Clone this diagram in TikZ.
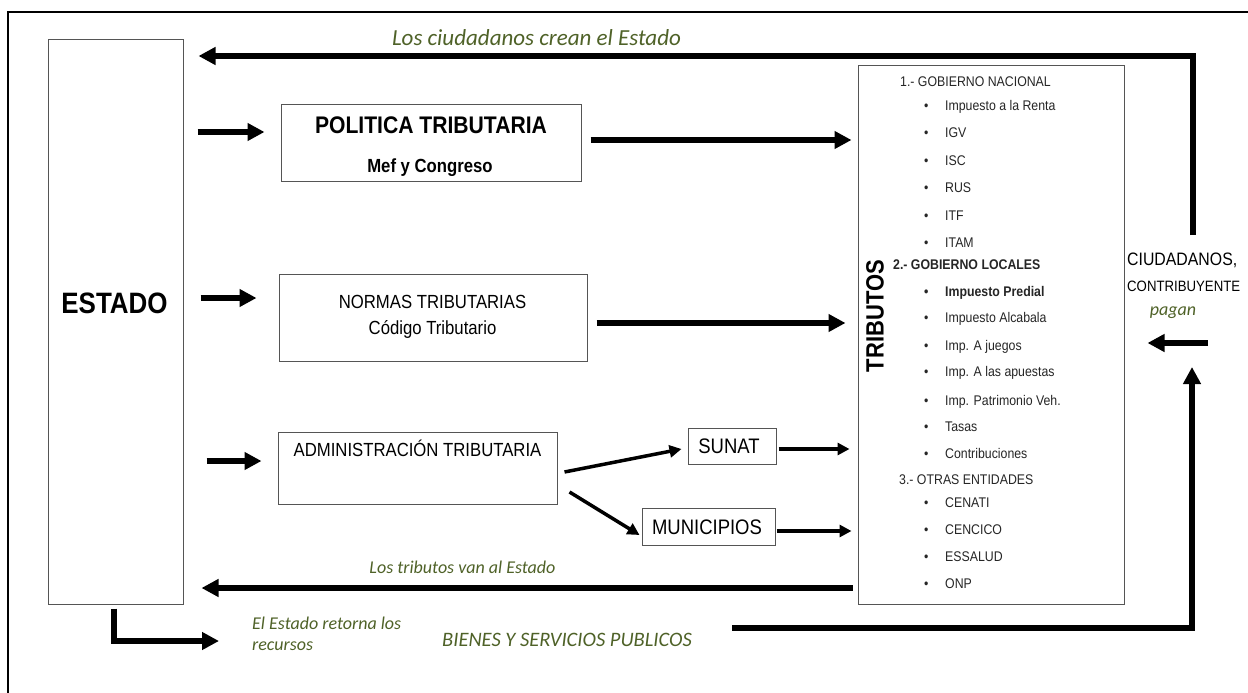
\documentclass[tikz,border=0pt]{standalone}
\usepackage{fontspec}
\setmainfont{Liberation Sans}
\newfontfamily\ar{Liberation Sans}[FakeStretch=0.88]
\newfontfamily\cb{Carlito}
\usetikzlibrary{arrows.meta,calc}
\definecolor{txtgreen}{RGB}{79,98,40}
\definecolor{boxgray}{RGB}{85,85,85}
\tikzset{
  box/.style={draw=boxgray, line width=1pt, inner sep=0pt, fill=white},
  btxt/.style={anchor=base, inner sep=0pt, font=\ar\fontsize{19}{22}\selectfont},
  gtxt/.style={inner sep=0pt, text=txtgreen},
  item/.style={anchor=base west, inner sep=0pt, text=black!85, font=\ar\fontsize{14}{16}\selectfont},
  bigarrow/.style={line width=5.5pt, line join=miter, -{Triangle[length=17pt,width=17pt]}},
  smallarrow/.style={line width=3.5pt, -{Triangle[length=12pt,width=12pt]}},
}
\begin{document}
\begin{tikzpicture}[x=1pt,y=-1pt]
\useasboundingbox (0,0) rectangle (1248,693);
\fill[white] (0,0) rectangle (1248,693);
% frame
\draw[line width=2pt] (8,693) -- (8,12) -- (1248,12);

% boxes
\node[box, minimum width=135pt, minimum height=564pt] (estado) at (115.5,322) {};
\node[box, minimum width=300pt, minimum height=77pt] (politica) at (431,142.5) {};
\node[box, minimum width=308pt, minimum height=87pt] (normas) at (433,317.5) {};
\node[box, minimum width=279pt, minimum height=72pt] (adm) at (417.5,468) {};
\node[box, minimum width=88pt, minimum height=36pt] (sunat) at (732,446) {};
\node[box, minimum width=133pt, minimum height=37pt] (muni) at (708.5,526.5) {};
\node[box, minimum width=266pt, minimum height=538pt] (tributos) at (991,335) {};

% box texts
\node[btxt, font=\ar\bfseries\fontsize{29.5}{33}\selectfont] (estadotxt) at (114.5,313.3) {ESTADO};
\node[btxt, font=\ar\bfseries\fontsize{24}{28}\selectfont] (politxt) at (431,133) {POLITICA TRIBUTARIA};
\node[btxt, font=\ar\bfseries\fontsize{19}{22}\selectfont] (meftxt) at (430,172) {Mef y Congreso};
\node[btxt] (normtxt) at (432.5,308) {NORMAS TRIBUTARIAS};
\node[btxt] (codtxt) at (432.5,334) {Código Tributario};
\node[btxt] (admtxt) at (417.5,456.7) {ADMINISTRACIÓN TRIBUTARIA};
\node[btxt, font=\ar\fontsize{21}{24}\selectfont] (sunattxt) at (729,453) {SUNAT};
\node[btxt, font=\ar\fontsize{21}{24}\selectfont] (munitxt) at (707,534.3) {MUNICIPIOS};
\node[inner sep=0pt, rotate=90, font=\ar\bfseries\fontsize{25}{30}\selectfont] (tribtxt) at (875,316) {TRIBUTOS};

% list
\node[item] (h1) at (900,86.7) {1.- GOBIERNO NACIONAL};
\node[item] (l1) at (924,110.7) {\makebox[21pt][l]{•}Impuesto a la Renta};
\node[item] (l2) at (924,137.3) {\makebox[21pt][l]{•}IGV};
\node[item] (l3) at (924,165) {\makebox[21pt][l]{•}ISC};
\node[item] (l4) at (924,192.7) {\makebox[21pt][l]{•}RUS};
\node[item] (l5) at (924,220) {\makebox[21pt][l]{•}ITF};
\node[item] (l6) at (924,247.3) {\makebox[21pt][l]{•}ITAM};
\node[item, font=\ar\bfseries\fontsize{14}{16}\selectfont] (h2) at (893,269.3) {2.- GOBIERNO LOCALES};
\node[item, font=\ar\bfseries\fontsize{14}{16}\selectfont] (l7) at (924,296) {\makebox[21pt][l]{•}Impuesto Predial};
\node[item] (l8) at (924,322.7) {\makebox[21pt][l]{•}Impuesto Alcabala};
\node[item] (l9) at (924,350) {\makebox[21pt][l]{•}Imp. A juegos};
\node[item] (l10) at (924,376.7) {\makebox[21pt][l]{•}Imp. A las apuestas};
\node[item] (l11) at (924,405) {\makebox[21pt][l]{•}Imp. Patrimonio Veh.};
\node[item] (l12) at (924,431.7) {\makebox[21pt][l]{•}Tasas};
\node[item] (l13) at (924,458.3) {\makebox[21pt][l]{•}Contribuciones};
\node[item] (h3) at (899,484) {3.- OTRAS ENTIDADES};
\node[item] (l14) at (924,507.3) {\makebox[21pt][l]{•}CENATI};
\node[item] (l15) at (924,534) {\makebox[21pt][l]{•}CENCICO};
\node[item] (l16) at (924,561) {\makebox[21pt][l]{•}ESSALUD};
\node[item] (l17) at (924,588.3) {\makebox[21pt][l]{•}ONP};

% right side texts
\node[anchor=base west, inner sep=0pt, font=\ar\fontsize{18}{20}\selectfont] (ciud) at (1127,265) {CIUDADANOS,};
\node[anchor=base west, inner sep=0pt, font=\ar\fontsize{15}{18}\selectfont] (contrib) at (1127,291.7) {CONTRIBUYENTE};
\node[gtxt, anchor=base, font=\cb\itshape\fontsize{18}{20}\selectfont] (pagan) at (1173,315) {pagan};

% green labels
\node[gtxt, anchor=base, font=\cb\itshape\fontsize{23}{26}\selectfont] (lcce) at (536.5,45.7) {Los ciudadanos crean el Estado};
\node[gtxt, anchor=base, font=\cb\itshape\fontsize{18}{21}\selectfont] (ltve) at (462.5,573) {Los tributos van al Estado};
\node[gtxt, anchor=base west, font=\cb\itshape\fontsize{18}{21}\selectfont] (eer) at (252,629) {El Estado retorna los};
\node[gtxt, anchor=base west, font=\cb\itshape\fontsize{18}{21}\selectfont] (rec) at (252,650) {recursos};
\node[gtxt, anchor=base, font=\cb\itshape\fontsize{20.5}{24}\selectfont] (bsp) at (567,646) {BIENES Y SERVICIOS PUBLICOS};

% connectors
\coordinate (vtop) at (1193,235);
\coordinate (corner) at (1193,56);
\draw[bigarrow] (vtop) -- (corner) -- ($(estado.east|-corner)+(15,0)$);
\draw[bigarrow] ($(estado.east|-politica.west)+(14,-10.5)$) -- ($(politica.west)+(-16,-10.5)$);
\draw[bigarrow] ($(politica.east)+(9,-2.5)$) -- ($(tributos.west|-politica.east)+(-6,-2.5)$);
\draw[bigarrow] ($(estado.east|-normas.west)+(17,-19.5)$) -- ($(normas.west)+(-22,-19.5)$);
\draw[bigarrow] ($(normas.east)+(9,5.5)$) -- ($(tributos.west|-normas.east)+(-12,5.5)$);
\draw[bigarrow] ($(estado.east|-adm.west)+(23,-7)$) -- ($(adm.west)+(-16,-7)$);
\draw[smallarrow] ($(adm.east)+(7,4)$) -- ($(sunat.west)+(-6,3)$);
\draw[smallarrow] ($(adm.east)+(12,24)$) -- ($(muni.west)+(-2,8.5)$);
\draw[smallarrow] ($(sunat.east)+(2,3)$) -- ($(tributos.west|-sunat.east)+(-8,3)$);
\draw[smallarrow] ($(muni.east)+(1,4.5)$) -- ($(tributos.west|-muni.east)+(-6,4.5)$);
\draw[bigarrow] ($(tributos.south west)+(-5,-16.5)$) -- ($(estado.south east)+(18,-16.5)$);
\coordinate (ret) at (219,641);
\draw[bigarrow] ($(estado.south)+(-1.5,4)$) |- (ret);
\coordinate (bs) at (732,628);
\coordinate (upend) at (1192,367);
\draw[bigarrow] (bs) -- (bs -| upend) -- (upend);
\coordinate (pst) at (1208,343);
\draw[bigarrow] (pst) -- ($(tributos.east|-pst)+(23,0)$);
\end{tikzpicture}
\end{document}
